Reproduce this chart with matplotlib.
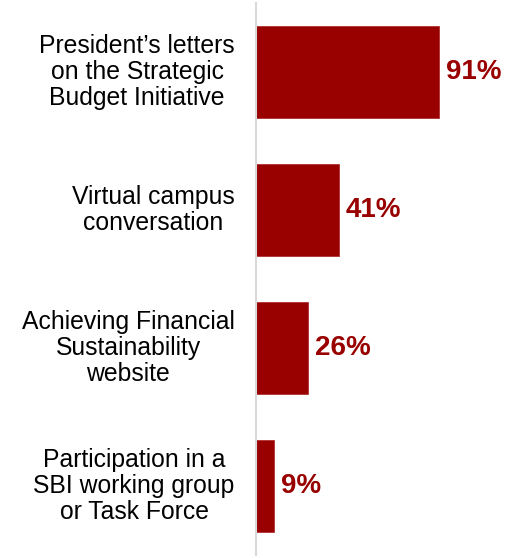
import matplotlib
matplotlib.use("Agg")
import matplotlib.pyplot as plt

categories = [
    "President\u2019s letters\non the Strategic\nBudget Initiative",
    "Virtual campus\nconversation",
    "Achieving Financial\nSustainability\nwebsite",
    "Participation in a\nSBI working group\nor Task Force",
]
values = [91, 41, 26, 9]
value_labels = ["91%", "41%", "26%", "9%"]

plt.rcParams['font.family'] = ['Liberation Sans', 'DejaVu Sans']

fig = plt.figure(figsize=(5.12, 5.58), dpi=100)
# axes start at the grey baseline line
ax = fig.add_axes([256 / 512, 3 / 558, 256 / 512, 552 / 558])

pos = list(range(len(values)))
ax.barh(pos, values, height=0.665, color='#990000', edgecolor='#b03030', linewidth=0.6)

ax.set_xlim(0, 127)
ax.set_ylim(3.5, -0.5)

for y, v, lab in zip(pos, values, value_labels):
    ax.text(v + 3.5, y, lab, va='center', ha='left', fontsize=20,
            fontweight='bold', color='#990000')

# category labels: block right-aligned, lines centred
for y, cat in zip(pos, categories):
    ax.text(-10.5, y, cat, va='center', ha='right', multialignment='center',
            fontsize=17.8, linespacing=1.1, color='black', clip_on=False)

ax.set_xticks([])
ax.set_yticks([])
for side in ['top', 'right', 'bottom']:
    ax.spines[side].set_visible(False)
ax.spines['left'].set_color('#d9d9d9')
ax.spines['left'].set_linewidth(1.5)

fig.savefig('out.png', dpi=100)
